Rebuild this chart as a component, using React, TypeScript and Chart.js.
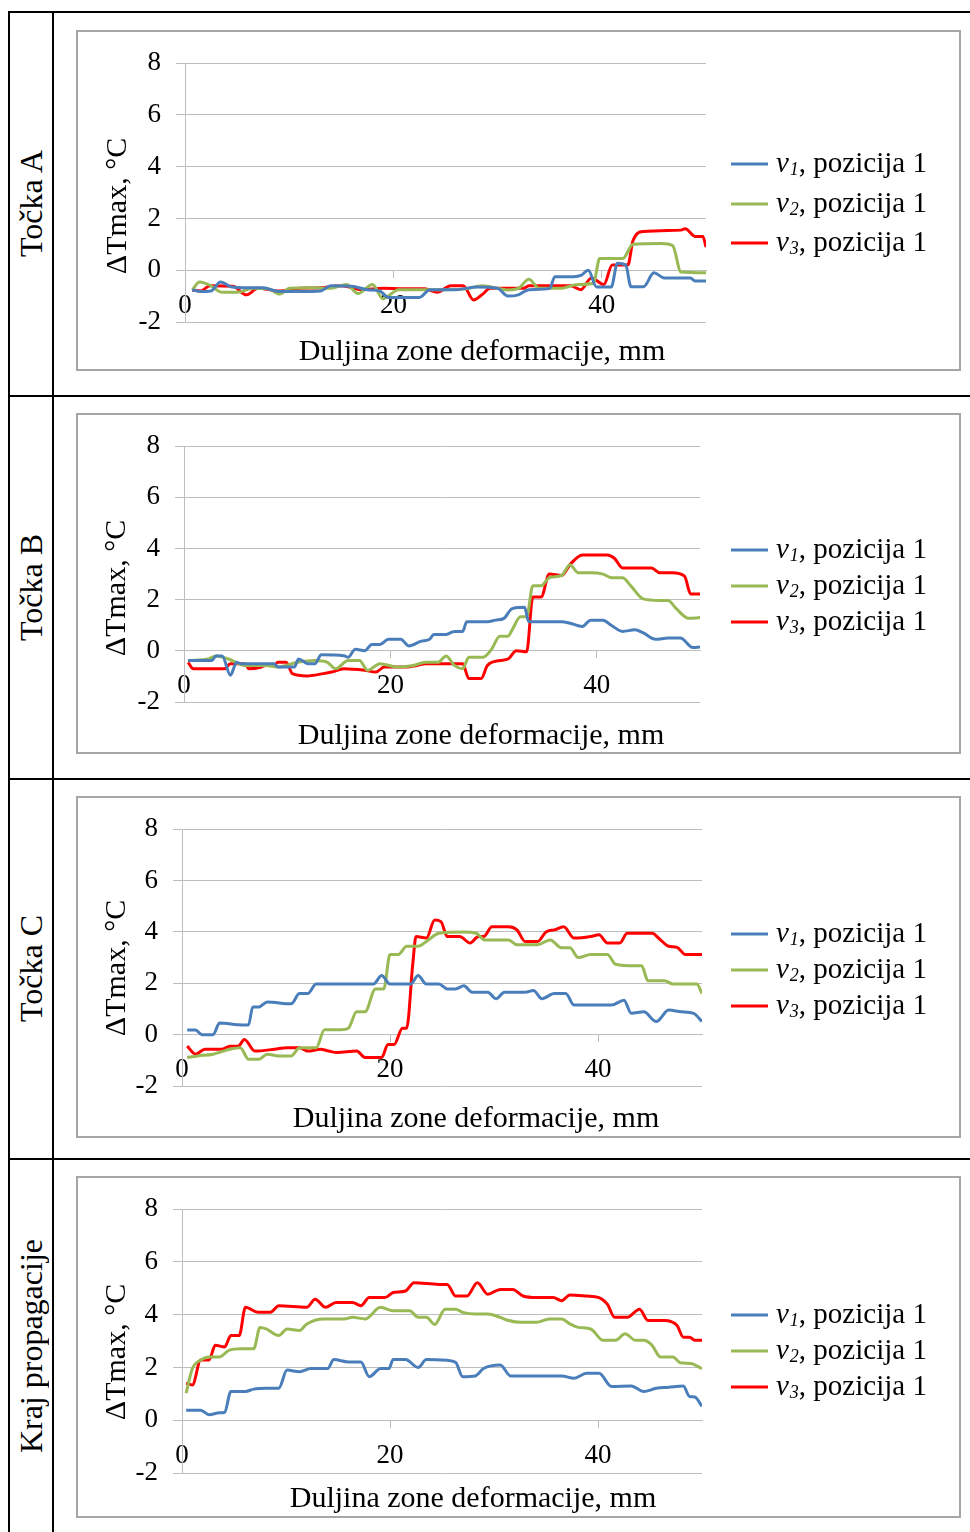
import React, { useEffect, useRef } from 'react';
import { Chart, registerables } from 'chart.js';

Chart.register(...registerables);

// ---------------- data ----------------
const ROW_LABELS = ['Točka A', 'Točka B', 'Točka C', 'Kraj propagacije'];
const X_TITLE = 'Duljina zone deformacije, mm';
const Y_TITLE = 'ΔTmax, °C';
const SERIES_BASE = 'v';
const SERIES_SUBS = ['1', '2', '3'];
const SERIES_SUFFIX = ', pozicija 1';
const X_TICKS = [0, 20, 40];
const X_MIN = 0;
const X_MAX = 50;
const Y_MIN = -2;
const Y_MAX = 8;
const Y_STEP = 2;

type Pt = [number, number];

const A_v1: Pt[] = [[0.7,-0.76],[1.5,-0.82],[2.5,-0.8],[3.4,-0.45],[4.5,-0.65],[6,-0.68],[7.5,-0.68],[9,-0.82],[11,-0.82],[13,-0.8],[14,-0.6],[16,-0.62],[17.5,-0.75],[18.7,-0.8],[19.5,-1.05],[22.5,-1.05],[23.5,-0.75],[26,-0.75],[28,-0.65],[30,-0.7],[31,-1.0],[32,-0.95],[33,-0.75],[35,-0.7],[35.5,-0.25],[37.3,-0.25],[38,-0.2],[38.7,0],[39.5,-0.65],[40.9,-0.65],[41.5,0.27],[42.3,0.2],[42.8,-0.64],[44,-0.64],[45,-0.1],[46,-0.3],[48.5,-0.3],[49,-0.42],[50,-0.42]];
const A_v2: Pt[] = [[0.7,-0.76],[1.4,-0.45],[2.5,-0.6],[3.5,-0.85],[5,-0.85],[6.5,-0.7],[8,-0.72],[9.1,-0.92],[10,-0.7],[12,-0.68],[14,-0.7],[15.5,-0.55],[16.6,-0.9],[18,-0.55],[19,-1.1],[20.5,-0.75],[23,-0.75],[25,-0.75],[27,-0.72],[28.5,-0.6],[30,-0.7],[31,-0.76],[32,-0.7],[33,-0.35],[34,-0.7],[36,-0.7],[37.7,-0.55],[39.2,-0.5],[39.8,0.45],[42,0.45],[43,1.0],[45.7,1.03],[46.8,0.95],[47.6,-0.07],[50,-0.1]];
const A_v3: Pt[] = [[0.7,-0.76],[1.5,-0.8],[2.4,-0.6],[4.6,-0.62],[5.9,-0.95],[7,-0.7],[9,-0.8],[11,-0.7],[13,-0.68],[15,-0.6],[17,-0.75],[19,-0.7],[21,-0.72],[23,-0.72],[24.2,-0.85],[25.5,-0.6],[26.7,-0.6],[27.7,-1.15],[28.5,-0.95],[29.3,-0.7],[32.5,-0.7],[33,-0.6],[37,-0.6],[38,-0.75],[39,-0.3],[40.2,-0.55],[41,0.2],[42.5,0.2],[43,1.15],[44,1.5],[47.6,1.55],[48,1.6],[49,1.3],[49.7,1.3],[50,0.9]];

const B_v1: Pt[] = [[0.4,-0.38],[2.7,-0.38],[3.1,-0.2],[3.7,-0.2],[4.5,-0.95],[5.1,-0.45],[5.5,-0.5],[8.7,-0.5],[9.1,-0.63],[10.7,-0.63],[11.1,-0.32],[12,-0.5],[12.7,-0.5],[13.3,-0.15],[15.5,-0.19],[15.9,-0.25],[16.6,0.06],[17.5,0],[18.2,0.25],[19,0.25],[19.8,0.45],[21,0.45],[21.8,0.19],[23,0.38],[23.8,0.45],[24.2,0.64],[25.4,0.64],[26.2,0.76],[27,0.76],[27.4,1.14],[29.4,1.14],[30.2,1.2],[31,1.27],[31.8,1.65],[33,1.7],[33.4,1.14],[36.6,1.14],[37.4,1.08],[38.6,0.95],[39.4,1.2],[40.6,1.2],[41.4,1.0],[42.5,0.76],[43.7,0.82],[44.5,0.7],[45.7,0.45],[46.9,0.5],[48.1,0.5],[49.3,0.13],[50,0.15]];
const B_v2: Pt[] = [[0.4,-0.38],[2.3,-0.32],[3.1,-0.2],[4.3,-0.32],[5.9,-0.57],[7.9,-0.57],[9.1,-0.63],[11,-0.45],[12.7,-0.38],[13.9,-0.45],[14.7,-0.7],[15.9,-0.38],[17,-0.38],[17.8,-0.76],[19,-0.5],[20.6,-0.63],[22.2,-0.57],[23.4,-0.45],[24.6,-0.45],[25.4,-0.2],[26.2,-0.57],[27,-0.7],[27.6,-0.25],[29,-0.25],[29.8,0.06],[30.6,0.57],[31.4,0.57],[31.8,0.82],[32.6,1.33],[33.2,1.33],[33.8,2.54],[34.6,2.54],[35.4,2.86],[36.6,2.95],[37.4,3.37],[38.2,3.05],[39.4,3.05],[40.6,3.0],[41.4,2.86],[42.5,2.86],[43.3,2.54],[44.5,2.03],[46.1,1.97],[46.9,1.97],[47.7,1.65],[48.9,1.27],[50,1.3]];
const B_v3: Pt[] = [[0.4,-0.45],[0.9,-0.7],[3.9,-0.7],[4.5,-0.5],[5.9,-0.5],[6.3,-0.7],[7.5,-0.63],[7.9,-0.57],[8.7,-0.57],[9.1,-0.45],[9.9,-0.45],[10.5,-0.89],[11.9,-0.98],[13.5,-0.89],[14.3,-0.83],[15.5,-0.7],[17.5,-0.76],[18.6,-0.83],[19.4,-0.63],[21.4,-0.63],[22.6,-0.57],[23.4,-0.5],[27,-0.5],[27.6,-1.08],[28.8,-1.08],[29.4,-0.57],[30.6,-0.38],[31.4,-0.32],[32.2,0],[33.2,-0.04],[33.8,2.1],[34.6,2.1],[35.4,3.0],[36.6,2.95],[37.4,3.37],[38.6,3.75],[41,3.75],[41.7,3.62],[42.5,3.24],[45.3,3.24],[46.1,3.05],[47.3,3.05],[48.5,2.92],[49.1,2.22],[50,2.22]];

const C_v1: Pt[] = [[0.5,0.18],[1.3,0.18],[1.9,0],[3,0],[3.6,0.45],[5.8,0.38],[6.4,0.38],[6.8,1.08],[7.4,1.08],[8.2,1.27],[10.5,1.2],[11.3,1.6],[12.1,1.6],[12.9,1.97],[18.4,1.97],[19.2,2.3],[20,1.97],[22,1.97],[22.7,2.3],[23.5,1.97],[24.7,1.97],[25.5,1.78],[26.3,1.78],[27.1,1.9],[27.9,1.65],[29.4,1.65],[30.2,1.4],[31,1.65],[33,1.65],[33.8,1.72],[34.6,1.4],[35.8,1.6],[36.9,1.6],[37.7,1.15],[41.3,1.15],[42.5,1.34],[43.2,0.83],[44.4,0.89],[45.6,0.51],[46.8,0.96],[48,0.89],[49.2,0.83],[50,0.51]];
const C_v2: Pt[] = [[0.5,-0.89],[1.5,-0.83],[3,-0.76],[4.6,-0.57],[5.6,-0.51],[6.4,-0.96],[7.4,-0.96],[8.2,-0.76],[9.3,-0.83],[10.5,-0.83],[11.3,-0.51],[12.9,-0.51],[13.7,0.19],[15.3,0.19],[16,0.25],[16.8,0.89],[17.6,0.89],[18.6,1.78],[19.4,1.78],[20,3.12],[20.8,3.12],[21.6,3.44],[22.7,3.44],[23.5,3.63],[24.7,3.95],[27.1,4.0],[28.3,3.95],[29.1,3.69],[31.4,3.69],[32.2,3.5],[34.2,3.5],[35.4,3.69],[36.5,3.38],[37.3,3.38],[38.1,3.0],[39.3,3.12],[40.9,3.12],[41.7,2.74],[43.6,2.68],[44.2,2.68],[44.8,2.1],[46.4,2.1],[47.2,1.97],[49.5,1.97],[50,1.6]];
const C_v3: Pt[] = [[0.5,-0.45],[1.3,-0.76],[2.2,-0.57],[3.8,-0.57],[4.6,-0.45],[5.4,-0.45],[6,-0.19],[7,-0.64],[8.9,-0.57],[10.1,-0.51],[11.3,-0.51],[12.1,-0.64],[13.3,-0.57],[14.1,-0.64],[14.9,-0.7],[16.8,-0.64],[17.6,-0.89],[19.2,-0.89],[19.8,-0.38],[20.4,-0.38],[21.2,0.25],[21.6,0.25],[22.2,2.8],[22.5,3.82],[23.5,3.76],[24.3,4.46],[24.9,4.4],[25.5,3.82],[26.7,3.82],[27.7,3.57],[28.5,3.82],[29,3.82],[29.8,4.2],[31.4,4.2],[32.2,4.08],[33,3.63],[34.2,3.63],[35,4.0],[35.8,4.08],[36.7,4.2],[37.7,3.76],[39.3,3.82],[40.1,3.89],[40.9,3.57],[42.1,3.57],[42.8,3.95],[45.2,3.95],[46,3.69],[46.8,3.44],[47.6,3.4],[48.4,3.12],[50,3.12]];

const D_v1: Pt[] = [[0.4,0.38],[1.8,0.38],[2.6,0.21],[3.6,0.28],[4.1,0.3],[4.7,1.09],[6.1,1.09],[6.9,1.18],[8.1,1.21],[9.3,1.21],[10.1,1.9],[11.3,1.84],[12.4,1.96],[14,1.96],[14.6,2.3],[16,2.21],[17.2,2.21],[18,1.65],[19.1,1.96],[19.9,1.96],[20.3,2.3],[21.5,2.3],[22.7,2.0],[23.5,2.3],[25.5,2.27],[26.3,2.2],[27,1.65],[28.2,1.68],[29,1.96],[30.6,2.09],[31.6,1.68],[36.5,1.68],[37.7,1.59],[38.9,1.78],[40.1,1.78],[41.3,1.28],[43.2,1.3],[44.4,1.09],[45.6,1.21],[46.8,1.25],[48.2,1.3],[48.8,0.9],[49.3,0.88],[50,0.53]];
const D_v2: Pt[] = [[0.4,1.03],[1,1.96],[1.8,2.28],[2.6,2.4],[3.6,2.4],[4.5,2.65],[5.7,2.71],[6.9,2.71],[7.5,3.52],[8.1,3.46],[9.3,3.21],[10.1,3.46],[11.3,3.4],[12,3.65],[13.6,3.84],[15.6,3.84],[16.4,3.9],[17.6,3.84],[19.1,4.28],[20.3,4.15],[21.9,4.15],[22.7,3.9],[23.5,3.9],[24.3,3.63],[25.3,4.21],[26.3,4.21],[27,4.09],[28.2,4.03],[29.4,4.03],[30.6,3.9],[31.4,3.78],[32.6,3.71],[34.1,3.71],[35.3,3.84],[36.5,3.84],[37.3,3.65],[38.1,3.52],[39.3,3.46],[40.5,3.03],[41.7,3.03],[42.6,3.28],[43.6,3.03],[44.4,3.03],[45.2,2.84],[46,2.4],[47.2,2.4],[47.9,2.18],[48.9,2.15],[50,1.96]];
const D_v3: Pt[] = [[0.4,1.4],[1,1.34],[1.8,2.28],[2.6,2.28],[3.2,2.84],[4.1,2.78],[4.7,3.21],[5.5,3.21],[6.1,4.28],[7.3,4.09],[8.5,4.09],[9.3,4.34],[12,4.28],[12.8,4.59],[13.8,4.28],[14.8,4.46],[16.4,4.46],[17.2,4.34],[18,4.65],[19.5,4.65],[20.3,4.84],[21.5,4.9],[22.3,5.21],[24.7,5.15],[25.5,5.15],[26.3,4.71],[27.4,4.71],[28.4,5.21],[29.4,4.78],[30.6,4.96],[31.8,4.96],[32.8,4.71],[34.1,4.65],[35.7,4.65],[36.5,4.53],[37.3,4.75],[38.9,4.71],[40.1,4.65],[40.9,4.4],[41.6,3.9],[42.8,3.9],[44,4.21],[44.8,3.78],[46.4,3.78],[47.6,3.59],[48.2,3.15],[48.8,3.15],[49.3,3.03],[50,3.03]];

const PANEL_SERIES: Pt[][][] = [
  [A_v1, A_v2, A_v3],
  [B_v1, B_v2, B_v3],
  [C_v1, C_v2, C_v3],
  [D_v1, D_v2, D_v3],
];

// ---------------- style / layout ----------------
const COLORS = ['#4a7ebb', '#98b954', '#ff0000'];
const FONT = '"Liberation Serif", "Times New Roman", serif';
const GRID = '#bdbdbd';
const TICK_SIZE = 27;
const TITLE_SIZE = 30;
const LEGEND_SIZE = 29;
const SUB_SIZE = 18;
const ROW_SIZE = 32;

const BOX_LEFT = 76;
const BOX_W = 885;
const BORDER = 2;

type Geo = {
  rowTop: number; rowH: number;
  boxTop: number; boxH: number;
  L: number; R: number; T: number; B: number;
  legendY: number[];
  xTitle: [number, number];
  yTitle: [number, number];
};

const GEOS: Geo[] = [
  { rowTop: 13, rowH: 382, boxTop: 30, boxH: 341, L: 185, R: 706, T: 60, B: 322, legendY: [164, 204, 243], xTitle: [482, 352], yTitle: [118, 206] },
  { rowTop: 397, rowH: 381, boxTop: 413, boxH: 341, L: 184, R: 700, T: 438, B: 702, legendY: [550, 586, 622], xTitle: [481, 736], yTitle: [117, 588] },
  { rowTop: 780, rowH: 378, boxTop: 796, boxH: 342, L: 182, R: 702, T: 825, B: 1086, legendY: [934, 970, 1006], xTitle: [476, 1119], yTitle: [117, 968] },
  { rowTop: 1160, rowH: 372, boxTop: 1176, boxH: 342, L: 182, R: 702, T: 1207, B: 1473, legendY: [1315, 1351, 1387], xTitle: [473, 1499], yTitle: [117, 1352] },
];

function Panel({ geo, series }: { geo: Geo; series: Pt[][] }) {
  const ref = useRef<HTMLCanvasElement>(null);
  useEffect(() => {
    const canvas = ref.current;
    if (!canvas) return;
    const ox = BOX_LEFT + BORDER;
    const oy = geo.boxTop + BORDER;
    const W = BOX_W - 2 * BORDER;
    const H = geo.boxH - 2 * BORDER;
    const plotL = geo.L - ox;
    const plotR = geo.R - ox;
    const plotT = geo.T - oy;
    const plotB = geo.B - oy;

    const decor = {
      id: 'decor',
      afterDraw(chart: any) {
        const ctx = chart.ctx as CanvasRenderingContext2D;
        ctx.save();
        ctx.fillStyle = '#000';
        ctx.textAlign = 'center';
        ctx.textBaseline = 'middle';
        ctx.font = `${TITLE_SIZE}px ${FONT}`;
        ctx.save();
        ctx.translate(geo.yTitle[0] - ox, geo.yTitle[1] - oy);
        ctx.rotate(-Math.PI / 2);
        ctx.fillText(chart.options.scales.y.title.text, 0, 0);
        ctx.restore();
        ctx.fillText(chart.options.scales.x.title.text, geo.xTitle[0] - ox, geo.xTitle[1] - oy);

        chart.data.datasets.forEach((ds: any, i: number) => {
          const y = geo.legendY[i] - oy;
          ctx.strokeStyle = ds.borderColor;
          ctx.lineWidth = 3;
          ctx.beginPath();
          ctx.moveTo(731 - ox, y);
          ctx.lineTo(768 - ox, y);
          ctx.stroke();
          let x = 776 - ox;
          ctx.textAlign = 'left';
          ctx.fillStyle = '#000';
          ctx.font = `italic ${LEGEND_SIZE}px ${FONT}`;
          ctx.fillText(SERIES_BASE, x, y);
          x += ctx.measureText(SERIES_BASE).width + 1;
          ctx.font = `italic ${SUB_SIZE}px ${FONT}`;
          ctx.fillText(SERIES_SUBS[i], x, y + 6);
          x += ctx.measureText(SERIES_SUBS[i]).width;
          ctx.font = `${LEGEND_SIZE}px ${FONT}`;
          ctx.fillText(SERIES_SUFFIX, x, y);
        });
        ctx.restore();
      },
    };

    const chart = new Chart(canvas, {
      type: 'line',
      data: {
        datasets: series.map((s, i) => ({
          label: SERIES_BASE + SERIES_SUBS[i] + SERIES_SUFFIX,
          data: s.map(([x, y]) => ({ x, y })),
          borderColor: COLORS[i],
          backgroundColor: COLORS[i],
          borderWidth: 3,
          pointRadius: 0,
          cubicInterpolationMode: 'monotone' as const,
          fill: false,
        })),
      },
      options: {
        animation: false,
        responsive: false,
        maintainAspectRatio: false,
        events: [],
        layout: { padding: { left: 0, top: plotT, right: W - plotR, bottom: H - plotB } },
        plugins: { legend: { display: false }, tooltip: { enabled: false }, title: { display: false } },
        scales: {
          x: {
            type: 'linear',
            min: X_MIN,
            max: X_MAX,
            position: { y: 0 } as any,
            afterFit: (s: any) => { s.height = 0; },
            afterBuildTicks: (s: any) => { s.ticks = X_TICKS.map((v) => ({ value: v })); },
            ticks: { font: { family: FONT, size: TICK_SIZE }, color: '#000', padding: 12, maxRotation: 0, autoSkip: false },
            grid: { drawOnChartArea: false, drawTicks: true, tickLength: 7, color: GRID, lineWidth: 1 },
            border: { display: true, color: GRID, width: 1 },
            title: { display: false, text: X_TITLE },
          },
          y: {
            type: 'linear',
            min: Y_MIN,
            max: Y_MAX,
            afterFit: (s: any) => { s.width = plotL; },
            ticks: { stepSize: Y_STEP, font: { family: FONT, size: TICK_SIZE }, color: '#000', padding: 15 },
            grid: { color: GRID, tickLength: 9, lineWidth: 1 },
            border: { display: true, color: GRID, width: 1 },
            title: { display: false, text: Y_TITLE },
          },
        },
      },
      plugins: [decor],
    });
    return () => chart.destroy();
  }, [geo, series]);

  const W = BOX_W - 2 * BORDER;
  const H = geo.boxH - 2 * BORDER;
  return (
    <div
      style={{
        position: 'absolute',
        left: BOX_LEFT,
        top: geo.boxTop,
        width: BOX_W,
        height: geo.boxH,
        border: `${BORDER}px solid #a6a6a6`,
        boxSizing: 'border-box',
        background: '#fff',
      }}
    >
      <canvas ref={ref} width={W} height={H} style={{ display: 'block', width: W, height: H }} />
    </div>
  );
}

const line = (left: number, top: number, width: number, height: number, key: string) => (
  <div key={key} style={{ position: 'absolute', left, top, width, height, background: '#000' }} />
);

export default function App() {
  return (
    <div style={{ position: 'absolute', left: 0, top: 0, width: 970, height: 1532, overflow: 'hidden', background: '#fff', fontFamily: FONT }}>
      {line(8, 11, 962, 2, 't')}
      {line(8, 395, 962, 2, 'r1')}
      {line(8, 778, 962, 2, 'r2')}
      {line(8, 1158, 962, 2, 'r3')}
      {line(8, 11, 2, 1521, 'l')}
      {line(52, 11, 2, 1521, 'c')}
      {GEOS.map((g, i) => (
        <div
          key={'lbl' + i}
          style={{
            position: 'absolute',
            left: 10,
            top: g.rowTop,
            width: 42,
            height: g.rowH,
            display: 'flex',
            alignItems: 'center',
            justifyContent: 'center',
          }}
        >
          <span
            style={{
              writingMode: 'vertical-rl',
              transform: 'rotate(180deg)',
              fontSize: ROW_SIZE,
              fontFamily: FONT,
              color: '#000',
              whiteSpace: 'nowrap',
              lineHeight: 1,
            }}
          >
            {ROW_LABELS[i]}
          </span>
        </div>
      ))}
      {GEOS.map((g, i) => (
        <Panel key={'p' + i} geo={g} series={PANEL_SERIES[i]} />
      ))}
    </div>
  );
}
